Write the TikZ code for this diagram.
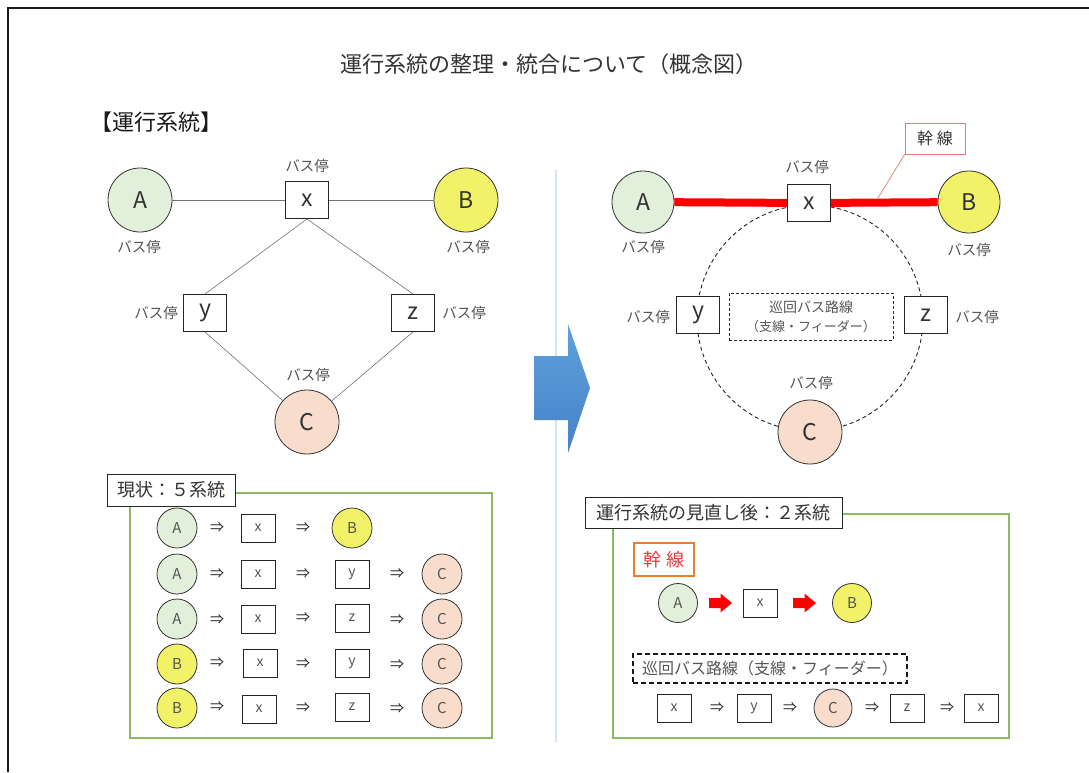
\documentclass[tikz,border=0pt]{standalone}
\usepackage{fontspec}
\setmainfont{Noto Sans CJK JP}
\usetikzlibrary{calc}
\definecolor{gfill}{RGB}{226,239,218}
\definecolor{yfill}{RGB}{242,242,104}
\definecolor{pfill}{RGB}{248,220,204}
\definecolor{gline}{RGB}{140,185,100}
\definecolor{txtg}{RGB}{85,85,85}
\definecolor{divc}{RGB}{214,226,238}
\definecolor{pinkl}{RGB}{226,120,120}
\definecolor{orng}{RGB}{237,125,49}
\definecolor{redt}{RGB}{230,60,60}
\definecolor{blueA}{RGB}{96,160,220}
\definecolor{blueB}{RGB}{70,130,200}
\tikzset{
  bigc/.style={circle, draw=black!80, line width=0.8pt, minimum size=64pt, inner sep=0pt, font=\fontsize{23}{23}\selectfont, text=black!80},
  bigsq/.style={draw=black!85, line width=0.9pt, fill=white, minimum width=43pt, minimum height=37pt, inner sep=0pt, font=\fontsize{23}{23}\selectfont, text=black!80},
  stoplbl/.style={font=\fontsize{14.5}{14.5}\selectfont, text=txtg, inner sep=0pt},
  smc/.style={circle, draw=black!80, line width=0.8pt, minimum size=40pt, inner sep=0pt, font=\fontsize{15}{15}\selectfont, text=txtg},
  smsq/.style={draw=black!85, line width=0.8pt, fill=white, minimum width=34pt, minimum height=28pt, inner sep=0pt, font=\fontsize{14}{14}\selectfont, text=txtg},
  arrtxt/.style={font=\fontsize{14}{14}\selectfont, text=black!85, inner sep=0pt},
  hdrbox/.style={draw=black!85, line width=0.9pt, fill=white, inner sep=0pt, font=\fontsize{18}{18}\selectfont, text=black!80},
  graylink/.style={draw=black!55, line width=0.6pt},
  greenframe/.style={draw=gline, line width=1.2pt},
}
\begin{document}
\begin{tikzpicture}[x=1pt,y=-1pt]
\useasboundingbox (0,0) rectangle (1089,772);
\fill[white] (0,0) rectangle (1089,772);
% page frame
\draw[line width=1.5pt, black!90] (8,772) -- (8,8) -- (1089,8);

% titles
\node[font=\fontsize{22}{22}\selectfont, text=black!80] (title) at (549,64) {運行系統の整理・統合について（概念図）};
\node[font=\fontsize{22}{22}\selectfont, text=black!90] (hdr) at (156,122) {【運行系統】};

% divider
\draw[divc, line width=1.3pt] (556,170) -- (556,742);

% big blue arrow
\shade[top color=blueA, bottom color=blueB] (534,356) -- (568,356) -- (568,324) -- (590,388) -- (568,453) -- (568,420) -- (534,420) -- cycle;

% ---------- left graph ----------
\node[bigc, fill=gfill] (LA) at (140,200) {A};
\node[bigsq] (Lx) at (307,200) {x};
\node[bigc, fill=yfill] (LB) at (466,200) {B};
\node[bigsq] (Ly) at (205,313) {y};
\node[bigsq] (Lz) at (413,313) {z};
\node[bigc, fill=pfill] (LC) at (307,422) {C};
\node[stoplbl] (LAl) at (139,247) {バス停};
\node[stoplbl] (Lxl) at (307,166) {バス停};
\node[stoplbl] (LBl) at (468,247) {バス停};
\node[stoplbl] (Lyl) at (156,313) {バス停};
\node[stoplbl] (Lzl) at (464,313) {バス停};
\node[stoplbl] (LCl) at (308,375) {バス停};
\draw[graylink] (LA) -- (Lx);
\draw[graylink] (Lx) -- (LB);
\draw[graylink] (Lx.south) -- (Ly.north);
\draw[graylink] (Lx.south) -- (Lz.north);
\draw[graylink] (Ly.south) -- (LC);
\draw[graylink] (Lz.south) -- (LC);

% ---------- right graph ----------
\draw[black!85, line width=0.9pt, dash pattern=on 4pt off 3pt] (810,318) circle[radius=113];
\node[bigc, fill=gfill, minimum size=62pt] (RA) at (643,202) {A};
\node[bigsq] (Rx) at (809,203) {x};
\node[bigc, fill=yfill, minimum size=62pt] (RB) at (969,202) {B};
\node[bigsq] (Ry) at (698,315) {y};
\node[bigsq] (Rz) at (926,315) {z};
\node[bigc, fill=pfill] (RC) at (810,432) {C};
\node[stoplbl] (RAl) at (643,247) {バス停};
\node[stoplbl] (Rxl) at (807,167) {バス停};
\node[stoplbl] (RBl) at (969,250) {バス停};
\node[stoplbl] (Ryl) at (648,317) {バス停};
\node[stoplbl] (Rzl) at (977,317) {バス停};
\node[stoplbl] (RCl) at (811,383) {バス停};
\draw[red, line width=8pt] (RA) -- (Rx);
\draw[red, line width=8pt] (Rx) -- (RB);
\node[draw=pinkl, line width=0.8pt, fill=white, minimum width=60pt, minimum height=31pt, inner sep=0pt, font=\fontsize{16}{16}\selectfont, text=black!80] (kan) at (935,138.5) {幹 線};
\coordinate (kanpt) at (878,198);
\draw[pinkl, line width=0.7pt] (kan.south west) -- (kanpt);
\node[draw=black!85, line width=0.8pt, dash pattern=on 3pt off 2pt, fill=white, minimum width=164pt, minimum height=47pt, inner sep=0pt, align=center, font=\fontsize{14}{19}\selectfont, text=txtg] (loop) at (811,316.5) {巡回バス路線\\{\fontsize{13}{13}\selectfont（支線・フィーダー）}};

% ---------- bottom left ----------
\draw[greenframe] (130,493) rectangle (492,738);
\node[hdrbox, minimum width=128pt, minimum height=32pt] (now) at (171,490) {現状：５系統};
% row 1
\node[smc, fill=gfill] (a1) at (177,528) {A};
\node[arrtxt] (a1b) at (217,528) {⇒};
\node[smsq] (a1c) at (258,528) {x};
\node[arrtxt] (a1d) at (303,528) {⇒};
\node[smc, fill=yfill] (a1e) at (352,528) {B};
% row 2
\node[smc, fill=gfill] (a2) at (177,574) {A};
\node[arrtxt] (a2b) at (217,574) {⇒};
\node[smsq] (a2c) at (258,574) {x};
\node[arrtxt] (a2d) at (303,574) {⇒};
\node[smsq] (a2e) at (352,574) {y};
\node[arrtxt] (a2f) at (397,574) {⇒};
\node[smc, fill=pfill] (a2g) at (442,574) {C};
% row 3
\node[smc, fill=gfill] (a3) at (177,619) {A};
\node[arrtxt] (a3b) at (217,620) {⇒};
\node[smsq] (a3c) at (258,619) {x};
\node[arrtxt] (a3d) at (303,618) {⇒};
\node[smsq] (a3e) at (352,618) {z};
\node[arrtxt] (a3f) at (397,620) {⇒};
\node[smc, fill=pfill] (a3g) at (442,619) {C};
% row 4
\node[smc, fill=yfill] (a4) at (177,664) {B};
\node[arrtxt] (a4b) at (217,663) {⇒};
\node[smsq] (a4c) at (260,663) {x};
\node[arrtxt] (a4d) at (303,664) {⇒};
\node[smsq] (a4e) at (352,663) {y};
\node[arrtxt] (a4f) at (397,665) {⇒};
\node[smc, fill=pfill] (a4g) at (442,664) {C};
% row 5
\node[smc, fill=yfill] (a5) at (177,708) {B};
\node[arrtxt] (a5b) at (217,707) {⇒};
\node[smsq] (a5c) at (259,709) {x};
\node[arrtxt] (a5d) at (303,708) {⇒};
\node[smsq] (a5e) at (352,707) {z};
\node[arrtxt] (a5f) at (397,709) {⇒};
\node[smc, fill=pfill] (a5g) at (442,708) {C};

% ---------- bottom right ----------
\draw[greenframe] (613,514) rectangle (1009,738);
\node[hdrbox, minimum width=257pt, minimum height=31pt] (after) at (713.5,512.5) {運行系統の見直し後：２系統};
\node[draw=orng, line width=1.2pt, fill=white, minimum width=60pt, minimum height=33pt, inner sep=0pt, font=\fontsize{18}{18}\selectfont, text=redt] (kan2) at (664,559.5) {幹 線};
\node[smc, fill=gfill, minimum size=39pt] (b1) at (678,603) {A};
\fill[red, shift={(720.5,603)}] (-11.5,-5) -- (0,-5) -- (0,-9.5) -- (11.5,0) -- (0,9.5) -- (0,5) -- (-11.5,5) -- cycle;
\node[smsq] (b2) at (760,603) {x};
\fill[red, shift={(804.5,603)}] (-11.5,-5) -- (0,-5) -- (0,-9.5) -- (11.5,0) -- (0,9.5) -- (0,5) -- (-11.5,5) -- cycle;
\node[smc, fill=yfill, minimum size=39pt] (b3) at (852,603) {B};
\node[draw=black!90, line width=1.4pt, dash pattern=on 5pt off 3pt, minimum width=274pt, minimum height=29pt, inner sep=0pt, font=\fontsize{16}{16}\selectfont, text=txtg] (loop2) at (770,668.5) {巡回バス路線（支線・フィーダー）};
\node[smsq] (c1) at (674,708) {x};
\node[arrtxt] (c1a) at (717,708) {⇒};
\node[smsq] (c2) at (754,708) {y};
\node[arrtxt] (c2a) at (790,708) {⇒};
\node[smc, fill=pfill, minimum size=38pt] (c3) at (833,708) {C};
\node[arrtxt] (c3a) at (872,708) {⇒};
\node[smsq] (c4) at (907,708) {z};
\node[arrtxt] (c4a) at (947,708) {⇒};
\node[smsq] (c5) at (981,708) {x};
\end{tikzpicture}
\end{document}
